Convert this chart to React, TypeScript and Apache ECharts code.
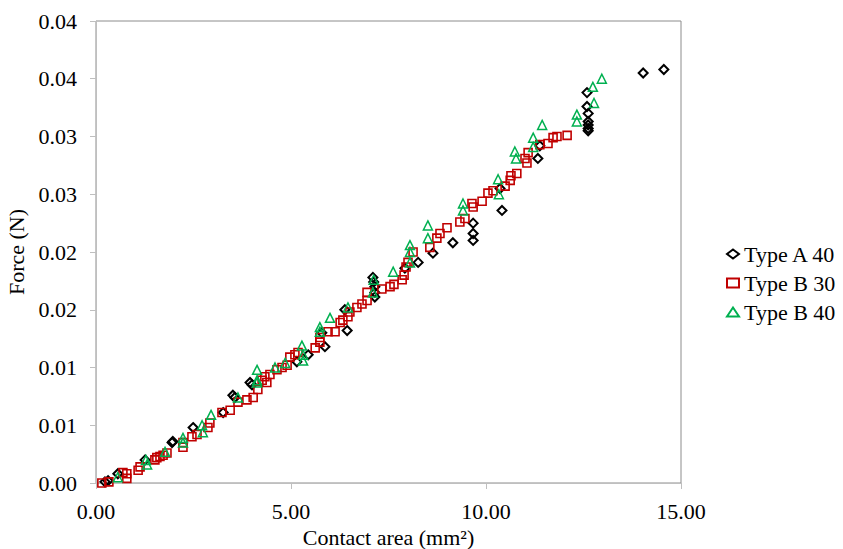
import React, { useEffect, useRef } from "react";
import * as echarts from "echarts";

// Type A 40 — [contact area (mm²), force (N)]
const typeA40: [number, number][] = [
  [0.23, 0.0001], [0.31, 0.0002], [0.56, 0.0008], [1.26, 0.002], [1.95, 0.0035],
  [1.97, 0.0036], [2.49, 0.0048], [3.26, 0.0061], [3.51, 0.0076], [3.56, 0.0074],
  [3.95, 0.0087], [4.0, 0.0085], [5.15, 0.0105], [5.44, 0.0111], [5.79, 0.013],
  [5.87, 0.0118], [6.38, 0.015], [6.44, 0.0132], [7.1, 0.0178], [7.12, 0.0174],
  [7.15, 0.017], [7.15, 0.0165], [7.15, 0.0161], [7.92, 0.0186], [8.26, 0.0191],
  [8.64, 0.0199], [9.15, 0.0208], [9.67, 0.0225], [9.67, 0.0216], [9.67, 0.021],
  [10.41, 0.0236], [10.36, 0.0255], [11.33, 0.0281], [11.38, 0.0292], [12.59, 0.0338],
  [12.59, 0.0326], [12.62, 0.032], [12.62, 0.0313], [12.62, 0.031], [12.62, 0.0307],
  [12.62, 0.0305], [14.03, 0.0355], [14.56, 0.0358],
];

// Type B 30
const typeB30: [number, number][] = [
  [0.15, 0.0], [0.33, 0.0001], [0.69, 0.0009], [0.79, 0.0004], [0.79, 0.0008],
  [1.08, 0.0011], [1.13, 0.0014], [1.51, 0.002], [1.56, 0.0022], [1.64, 0.0023],
  [1.72, 0.0024], [1.82, 0.0026], [2.23, 0.0031], [2.23, 0.0035], [2.46, 0.004],
  [2.59, 0.0042], [2.87, 0.0048], [2.92, 0.0052], [3.23, 0.0061], [3.44, 0.0063],
  [3.64, 0.007], [3.87, 0.0072], [4.03, 0.0074], [4.15, 0.0081], [4.26, 0.0089],
  [4.33, 0.0092], [4.38, 0.0087], [4.46, 0.0094], [4.64, 0.0098], [4.77, 0.01],
  [4.9, 0.0102], [4.97, 0.0109], [5.1, 0.0111], [5.18, 0.0113], [5.62, 0.0117],
  [5.74, 0.0122], [5.74, 0.0126], [5.95, 0.0131], [6.13, 0.0131], [6.26, 0.0139],
  [6.33, 0.0141], [6.46, 0.0144], [6.51, 0.0148], [6.69, 0.0152], [6.82, 0.0155],
  [6.95, 0.0158], [6.95, 0.0165], [7.33, 0.0168], [7.54, 0.017], [7.64, 0.0172],
  [7.85, 0.0176], [7.9, 0.018], [7.95, 0.0187], [8.0, 0.0191], [8.13, 0.02],
  [8.56, 0.0204], [8.74, 0.0212], [8.82, 0.0216], [9.0, 0.0221], [9.33, 0.0226],
  [9.46, 0.0229], [9.64, 0.0242], [9.67, 0.0239], [9.9, 0.0244], [10.05, 0.0251],
  [10.18, 0.0253], [10.49, 0.0257], [10.62, 0.0262], [10.64, 0.0266], [10.79, 0.0268],
  [11.05, 0.0277], [11.0, 0.0281], [11.08, 0.0286], [11.38, 0.0293], [11.59, 0.0294],
  [11.72, 0.0299], [11.82, 0.03], [12.08, 0.0301],
];

// Type B 40
const typeB40: [number, number][] = [
  [0.56, 0.0005], [1.31, 0.0016], [1.28, 0.002], [1.77, 0.0027], [2.23, 0.0039],
  [2.23, 0.0035], [2.72, 0.005], [2.74, 0.0044], [2.95, 0.0059], [3.64, 0.0074],
  [4.13, 0.0087], [4.13, 0.0089], [4.13, 0.0098], [4.59, 0.01], [4.85, 0.0104],
  [5.28, 0.0119], [5.31, 0.0111], [5.31, 0.0106], [5.74, 0.0135], [5.74, 0.0131],
  [6.0, 0.0143], [6.46, 0.0152], [7.1, 0.0165], [7.12, 0.0176], [7.62, 0.0183],
  [8.05, 0.0206], [8.05, 0.02], [8.05, 0.0191], [8.51, 0.0223], [8.51, 0.0212],
  [9.41, 0.0242], [9.41, 0.0236], [10.31, 0.0263], [10.33, 0.025], [10.74, 0.0287],
  [10.77, 0.0281], [11.21, 0.0299], [11.21, 0.0291], [11.44, 0.031], [12.33, 0.0313],
  [12.33, 0.0319], [12.77, 0.0329], [12.74, 0.0343], [12.97, 0.035],
];

const seriesNames = ["Type A 40", "Type B 30", "Type B 40"];
const yTickLabels = ["0.00", "0.01", "0.01", "0.02", "0.02", "0.03", "0.03", "0.04", "0.04"];
const xTickLabels = ["0.00", "5.00", "10.00", "15.00"];

const FONT = "Times New Roman, Liberation Serif, DejaVu Serif, serif";

export default function App() {
  const ref = useRef<HTMLDivElement>(null);
  useEffect(() => {
    if (!ref.current) return;
    const chart = echarts.init(ref.current, undefined, { renderer: "svg" });
    const hollow = (c: string, w: number) => ({ color: "rgba(0,0,0,0)", borderColor: c, borderWidth: w, opacity: 1 });
    const txt = { fontFamily: FONT, fontSize: 22, color: "#000", fontWeight: "normal" as const };
    chart.setOption({
      animation: false,
      backgroundColor: "#ffffff",
      textStyle: { fontFamily: FONT },
      grid: {
        left: 96, top: 21, right: 162, bottom: 66,
        containLabel: false, outerBoundsMode: "none",
        show: true, borderColor: "#8c8c8c", borderWidth: 1, backgroundColor: "transparent",
      },
      legend: {
        orient: "vertical",
        left: 721,
        top: 238,
        itemWidth: 12,
        itemHeight: 9,
        itemGap: 7,
        itemTextGap: 11,
        textStyle: txt,
        data: seriesNames,
      },
      xAxis: {
        type: "value",
        min: 0,
        max: 15,
        interval: 5,
        name: "Contact area (mm²)",
        nameLocation: "middle",
        nameGap: 42,
        nameTextStyle: txt,
        axisLine: { show: true, lineStyle: { color: "#bfbfbf", width: 1 } },
        axisTick: { show: true, length: 6, lineStyle: { color: "#bfbfbf" } },
        splitLine: { show: false },
        axisLabel: {
          ...txt, margin: 17,
          formatter: (v: number) => xTickLabels[Math.round(v / 5)] ?? "",
        },
      },
      yAxis: {
        type: "value",
        min: 0,
        max: 0.04,
        interval: 0.005,
        name: "Force (N)",
        nameLocation: "middle",
        nameGap: 68,
        nameTextStyle: txt,
        axisLine: { show: true, lineStyle: { color: "#bfbfbf", width: 1 } },
        axisTick: { show: true, length: 6, lineStyle: { color: "#bfbfbf" } },
        splitLine: { show: false },
        axisLabel: {
          ...txt, margin: 19,
          formatter: (v: number) => yTickLabels[Math.round(v / 0.005)] ?? "",
        },
      },
      series: [
        { name: seriesNames[0], type: "scatter", symbol: "diamond", symbolSize: 9, data: typeA40, itemStyle: hollow("#000000", 2) },
        { name: seriesNames[1], type: "scatter", symbol: "rect", symbolSize: 8, data: typeB30, itemStyle: hollow("#c00000", 1.6) },
        { name: seriesNames[2], type: "scatter", symbol: "triangle", symbolSize: 9, data: typeB40, itemStyle: hollow("#00b050", 1.5) },
      ],
    });
    return () => chart.dispose();
  }, []);
  return <div ref={ref} style={{ width: 843, height: 549, position: "absolute", left: 0, top: 0 }} />;
}
